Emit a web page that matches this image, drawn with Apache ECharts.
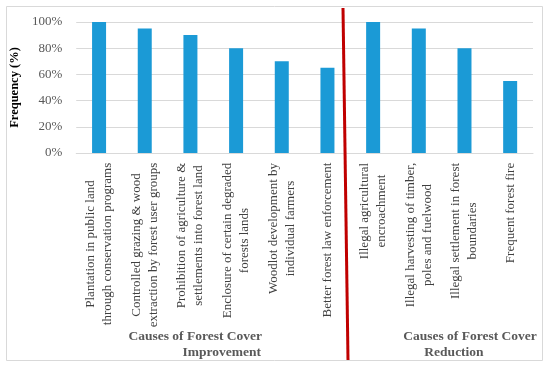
<!DOCTYPE html>
<html>
<head>
<meta charset="utf-8">
<script src="https://cdn.jsdelivr.net/npm/echarts@6/dist/echarts.min.js"></script>
<style>html,body{margin:0;padding:0;background:#fff}#c{width:550px;height:367px}</style>
</head>
<body>
<div id="c"></div>
<script>
var categories = [
  "Plantation in public land\nthrough conservation programs",
  "Controlled grazing & wood\nextraction by forest user groups",
  "Prohibition of agriculture &\nsettlements into forest land",
  "Enclosure of certain degraded\nforests lands",
  "Woodlot development by\nindividual farmers",
  "Better forest law enforcement",
  "Illegal agricultural\nencroachment",
  "Illegal harvesting of timber,\npoles and fuelwood",
  "Illegal settlement in forest\nboundaries",
  "Frequent forest fire"
];
var frequency = [100, 95, 90, 80, 70, 65, 100, 95, 80, 55];
var yTicks = [0, 20, 40, 60, 80, 100];
var groupTitles = [["Causes of Forest Cover", "Improvement"], ["Causes of Forest Cover", "Reduction"]];
var yAxisTitle = "Frequency (%)";

var serif = "'Liberation Serif', 'DejaVu Serif', serif";
var labelFontSize = 13;
var cv = document.createElement('canvas').getContext('2d');
cv.font = labelFontSize + "px " + serif;
var rich = {};
categories.forEach(function (c, i) {
  var w = 0;
  c.split("\n").forEach(function (l) { w = Math.max(w, cv.measureText(l).width); });
  rich['l' + i] = { width: Math.ceil(w) + 1, align: 'center', lineHeight: 17, fontSize: labelFontSize, fontFamily: serif, color: '#404040' };
});

var chart = echarts.init(document.getElementById('c'), null, { renderer: 'canvas' });
chart.setOption({
  animation: false,
  backgroundColor: '#fff',
  grid: { left: 70, right: 17, top: 22, bottom: 214, containLabel: false },
  xAxis: {
    type: 'category',
    data: categories,
    axisLine: { show: true, lineStyle: { color: '#d9d9d9', width: 1 } },
    axisTick: { show: false },
    axisLabel: {
      interval: 0,
      rotate: 90,
      margin: 9,
      formatter: function (v, i) {
        return v.split("\n").map(function (l) { return '{l' + i + '|' + l + '}'; }).join("\n");
      },
      rich: rich
    }
  },
  yAxis: {
    type: 'value',
    min: 0, max: 100, interval: 20,
    name: yAxisTitle,
    nameLocation: 'middle',
    nameGap: 44,
    nameRotate: 90,
    nameTextStyle: { fontFamily: serif, fontWeight: 'bold', fontSize: 12.5, color: '#000', padding: [0, 0, 6, 0] },
    axisLine: { show: false },
    axisTick: { show: false },
    axisLabel: {
      margin: 14,
      fontFamily: serif, fontSize: 13, color: '#595959',
      formatter: function (v) { return yTicks.indexOf(v) >= 0 ? v + '%' : ''; }
    },
    splitLine: { lineStyle: { color: '#d9d9d9', width: 1 } }
  },
  series: [{
    type: 'bar',
    data: frequency,
    barWidth: 14,
    itemStyle: { color: '#1b9ad6' }
  }],
  graphic: [
    { type: 'rect', shape: { x: 6.5, y: 6.5, width: 536, height: 354 }, style: { fill: 'none', stroke: '#d9d9d9', lineWidth: 1 }, z: -1 },
    { type: 'line', shape: { x1: 343, y1: 8, x2: 348, y2: 360 }, style: { stroke: '#c00000', lineWidth: 3 }, z: 10 },
    { type: 'text', x: 262, y: 337, style: { text: groupTitles[0][0], font: "bold 13.5px " + serif, fill: '#595959', textAlign: 'right', textVerticalAlign: 'middle' } },
    { type: 'text', x: 261, y: 353, style: { text: groupTitles[0][1], font: "bold 13.5px " + serif, fill: '#595959', textAlign: 'right', textVerticalAlign: 'middle' } },
    { type: 'text', x: 470, y: 337, style: { text: groupTitles[1][0], font: "bold 13.5px " + serif, fill: '#595959', textAlign: 'center', textVerticalAlign: 'middle' } },
    { type: 'text', x: 454, y: 353, style: { text: groupTitles[1][1], font: "bold 13.5px " + serif, fill: '#595959', textAlign: 'center', textVerticalAlign: 'middle' } }
  ]
});
</script>
</body>
</html>
